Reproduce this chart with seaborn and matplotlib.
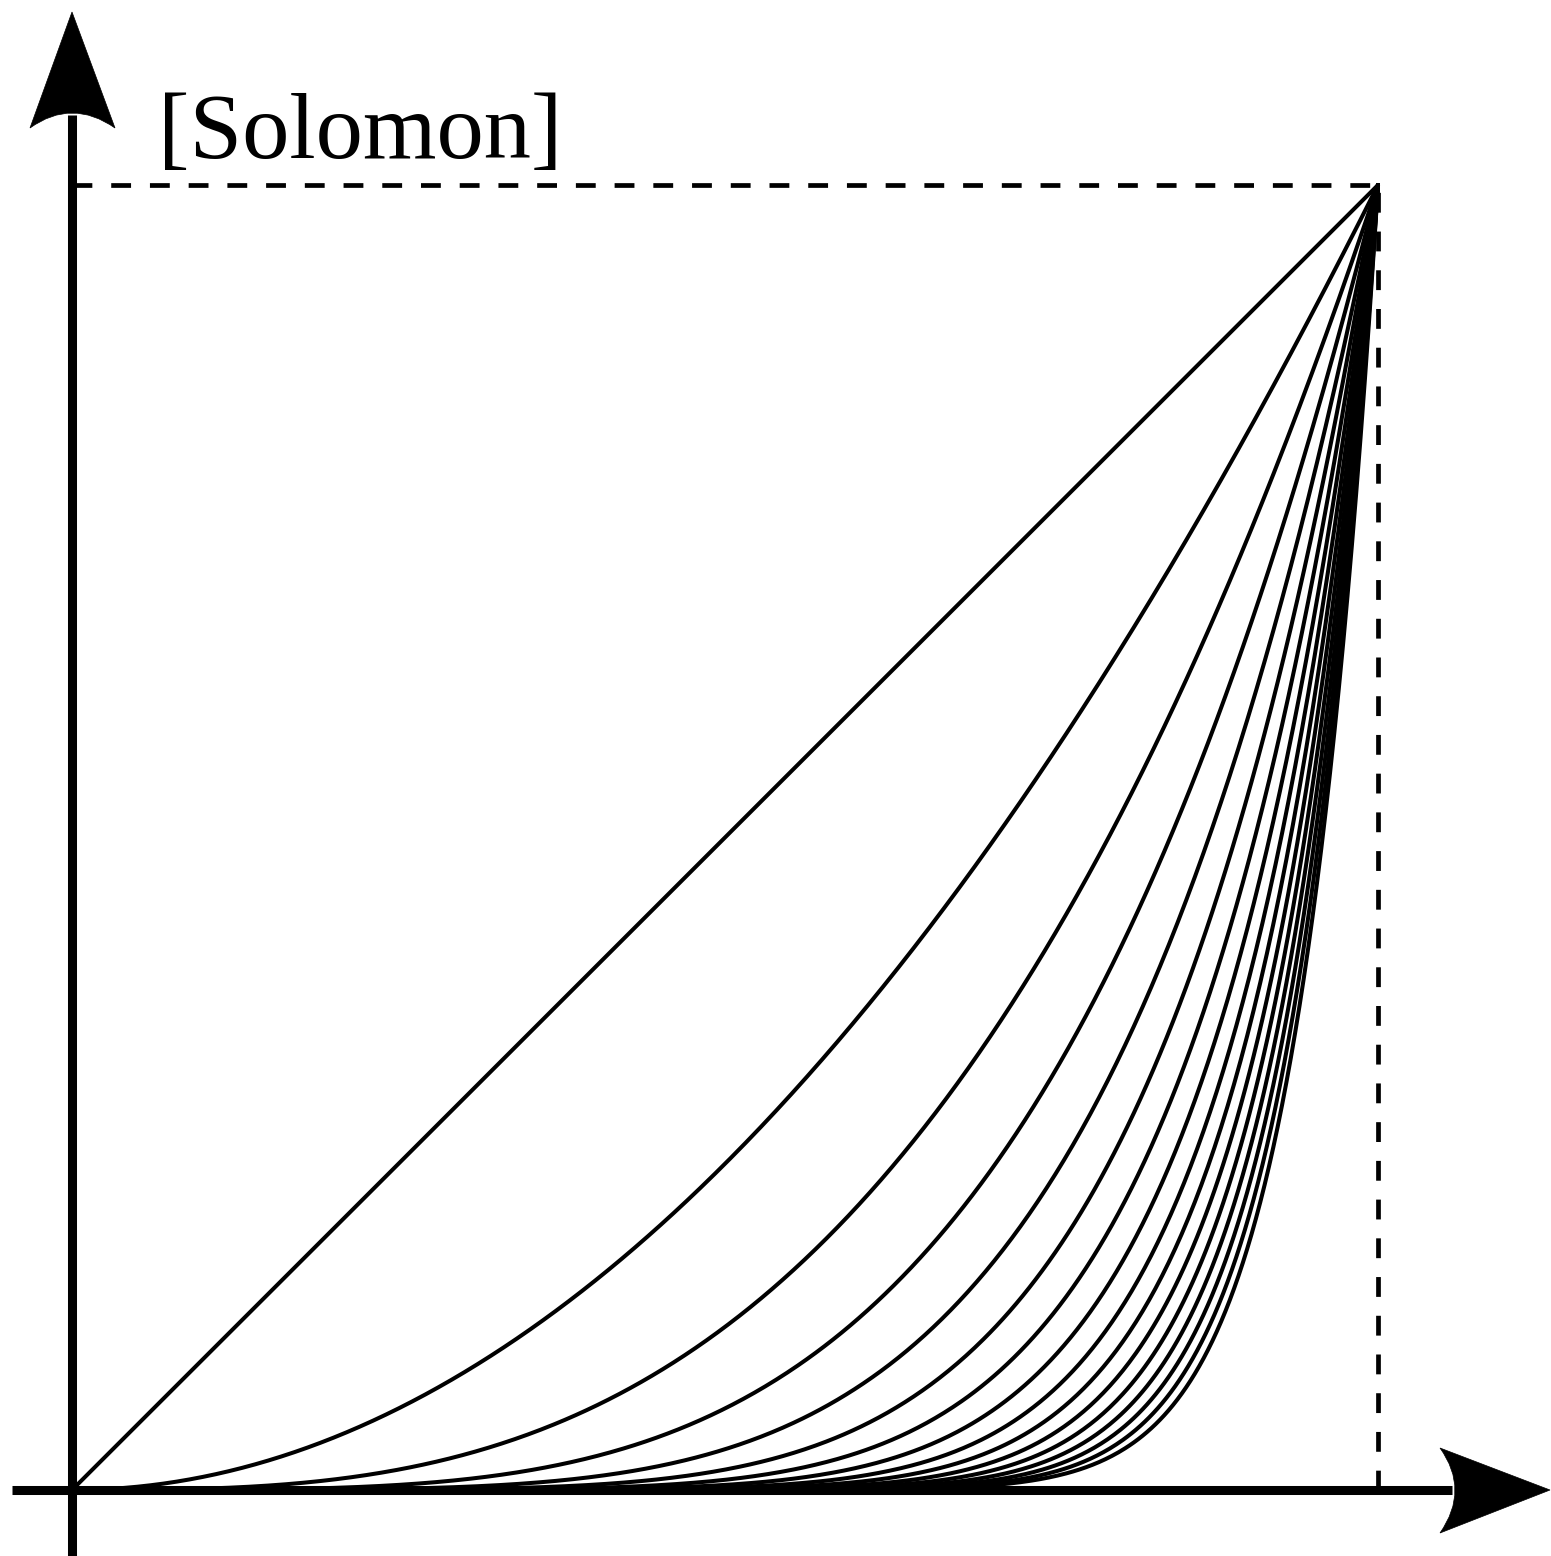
import numpy as np
import pandas as pd
import matplotlib
matplotlib.use("Agg")
import matplotlib.pyplot as plt
from matplotlib.path import Path
from matplotlib.patches import PathPatch
import seaborn as sns

# Power curves y = x**n drawn on the unit square
exponents = [1, 2, 3, 4, 5, 6, 7, 8, 9, 10, 11, 12, 13, 14, 15, 16]
label_text = "[Solomon]"

x_grid = np.linspace(0.0, 1.0, 600)
frames = [pd.DataFrame({"x": x_grid, "y": x_grid ** n, "n": n}) for n in exponents]
df = pd.concat(frames, ignore_index=True)

sns.set_theme(style="white")
plt.rcParams["font.family"] = ["Liberation Serif", "DejaVu Serif"]

W, H = 1551, 1556
fig = plt.figure(figsize=(W / 100, H / 100), dpi=100)
ax = fig.add_axes([0, 0, 1, 1])

# pixel frame: origin at (72, 1490), unit corner at (1378, 185)
ox, oy = 72, 1490
sx, sy = 1306, 1305
ax.set_xlim(-ox / sx, (W - ox) / sx)
ax.set_ylim(-(H - oy) / sy, oy / sy)
ax.axis("off")


def px(xp, yp):
    return ((xp - ox) / sx, (oy - yp) / sy)


sns.lineplot(data=df, x="x", y="y", hue="n", units="n", estimator=None,
             palette=["black"] * len(exponents), linewidth=2.9, legend=False,
             ax=ax, sort=False, zorder=3)

# dashed guides to the (1, 1) corner
dash = dict(color="black", linewidth=3.4, linestyle=(0, (4.2, 4.0)), zorder=2)
ax.plot([0, 1], [1, 1], **dash)
ax.plot([1, 1], [0, 1], **dash)

# axes with stealth arrowheads
lw_axis = 6.5
ax.plot([px(72, 1556)[0], px(72, 115)[0]], [px(72, 1556)[1], px(72, 115)[1]],
        color="black", linewidth=lw_axis, solid_capstyle="butt", zorder=4)
ax.plot([px(12, 1490)[0], px(1452, 1490)[0]], [px(12, 1490)[1], px(1452, 1490)[1]],
        color="black", linewidth=lw_axis, solid_capstyle="butt", zorder=4)


def arrow_head(tip, left, right, back_ctrl):
    verts = [px(*tip), px(*left), px(*back_ctrl), px(*right), px(*tip), px(*tip)]
    codes = [Path.MOVETO, Path.LINETO, Path.CURVE3, Path.CURVE3, Path.LINETO, Path.CLOSEPOLY]
    ax.add_patch(PathPatch(Path(verts, codes), facecolor="black", edgecolor="black",
                           linewidth=0.5, zorder=5))


arrow_head((72, 12), (30, 128), (115, 128), (72, 98))
arrow_head((1550, 1490), (1440, 1448), (1440, 1533), (1470, 1490))

ax.text(*px(158, 158), label_text, fontsize=68, ha="left", va="baseline",
        color="black", zorder=6)

fig.savefig("out.png", dpi=100)
